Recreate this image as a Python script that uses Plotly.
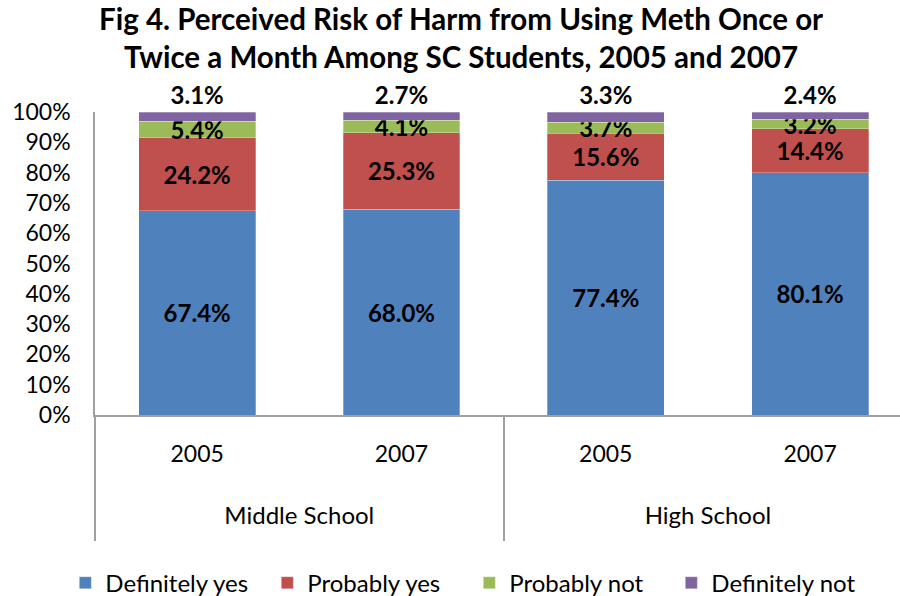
import plotly.graph_objects as go

# School level (group labels) and survey year (bar labels)
schools = ["Middle School", "Middle School", "High School", "High School"]
years = ["2005", "2007", "2005", "2007"]

# Percent of students answering each risk level
definitely_yes = [67.4, 68.0, 77.4, 80.1]
probably_yes = [24.2, 25.3, 15.6, 14.4]
probably_not = [5.4, 4.1, 3.7, 3.2]
definitely_not = [3.1, 2.7, 3.3, 2.4]

series = [
    ("Definitely yes", definitely_yes, "#4F81BD"),
    ("Probably yes", probably_yes, "#C0504D"),
    ("Probably not", probably_not, "#9BBB59"),
    ("Definitely not", definitely_not, "#8064A2"),
]

FONT = "Lato"
AXIS_GREY = "#A0A0A0"
TITLE = "Fig 4. Perceived Risk of Harm from Using Meth Once or<br>Twice a Month Among SC Students, 2005 and 2007"

# one category per bar, labelled with its year
bar_keys = [f"{s} {y}" for s, y in zip(schools, years)]
groups = list(dict.fromkeys(schools))
bars_per_group = len(bar_keys) // len(groups)

X_MAX = 3.44  # right end of the visible category range
group_max = (X_MAX + 0.5) / bars_per_group - 0.5

fig = go.Figure()
for i, (name, vals, color) in enumerate(series):
    top = i == len(series) - 1
    fig.add_trace(go.Bar(
        name=name,
        x=bar_keys,
        y=vals,
        marker=dict(color=color, line=dict(color="rgba(255,255,255,0.35)", width=0.8)),
        text=[f"{v:.1f}%" for v in vals],
        textposition="outside" if top else "inside",
        insidetextanchor="middle",
        constraintext="none",
        textangle=0,
        textfont=dict(family=FONT, size=24, color="black", weight="bold"),
        cliponaxis=False,
        hoverinfo="name+y",
    ))

# empty trace that puts the school-group axis on the figure
fig.add_trace(go.Scatter(x=[], y=[], xaxis="x2", yaxis="y",
                         showlegend=False, hoverinfo="skip"))

fig.update_layout(
    barmode="stack",
    barnorm="percent",
    bargap=0.428,
    width=900,
    height=596,
    margin=dict(l=95, r=0, t=112, b=181, autoexpand=False),
    paper_bgcolor="white",
    plot_bgcolor="white",
    font=dict(family=FONT, size=23, color="black"),
    legend=dict(
        orientation="h",
        x=0.465, xanchor="center",
        y=-0.555, yanchor="middle",
        font=dict(family=FONT, size=24),
        entrywidth=157,
        traceorder="normal",
    ),
    showlegend=True,
    annotations=[dict(
        text=TITLE,
        xref="paper", yref="paper",
        x=0.4547, xanchor="center",
        y=1.3725, yanchor="top",
        showarrow=False,
        font=dict(family=FONT, size=29.5, color="black", weight="bold"),
    )],
    xaxis=dict(
        type="category",
        categoryarray=bar_keys, categoryorder="array",
        range=[-0.5, X_MAX],
        tickvals=bar_keys, ticktext=years,
        showline=True, linecolor=AXIS_GREY, linewidth=1.5,
        ticks="", showgrid=False,
        tickfont=dict(family=FONT, size=23),
        ticklabelstandoff=18,
    ),
    # group axis: school names centred under their bars, dividers at group edges
    xaxis2=dict(
        type="linear",
        overlaying="x", anchor="y", side="bottom",
        range=[-0.5, group_max],
        tickvals=list(range(len(groups))), ticktext=groups,
        ticks="", showline=False, showgrid=False, zeroline=False,
        tickfont=dict(family=FONT, size=24),
        ticklabelstandoff=84,
        minor=dict(
            tickvals=[g - 0.5 for g in range(len(groups) + 1)],
            ticks="outside", ticklen=125,
            tickcolor=AXIS_GREY, tickwidth=1.5,
            showgrid=False,
        ),
    ),
    yaxis=dict(
        range=[0, 100],
        tickvals=list(range(0, 101, 10)),
        ticktext=[f"{v}%" for v in range(0, 101, 10)],
        showline=True, linecolor=AXIS_GREY, linewidth=1.5,
        showgrid=False, zeroline=False, ticks="",
        tickfont=dict(family=FONT, size=23),
        ticklabelstandoff=18,
    ),
)

fig.write_html("out.html")
